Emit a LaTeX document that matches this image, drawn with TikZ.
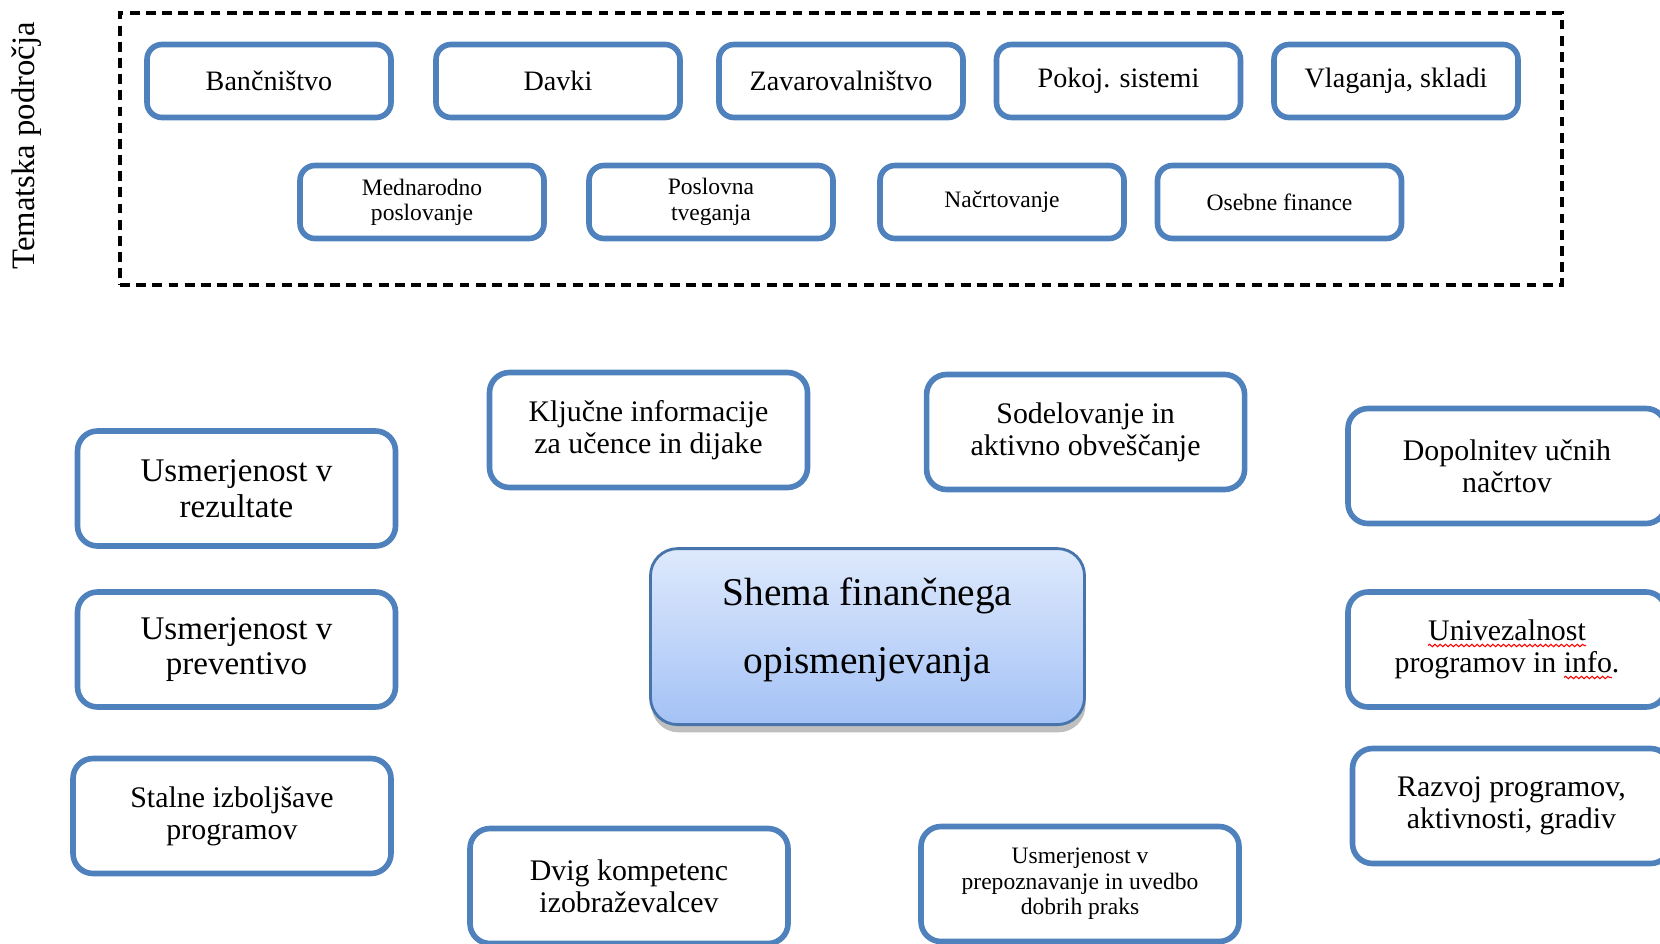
\documentclass[tikz,border=0pt]{standalone}
\usepackage{fontspec}
\setmainfont{Liberation Serif}
\usetikzlibrary{shadows,calc,decorations.pathmorphing}

\definecolor{okvir}{RGB}{79,129,189}
\definecolor{shemazg}{RGB}{222,233,252}
\definecolor{shemasp}{RGB}{164,194,246}

\begin{document}
\begin{tikzpicture}[
    tema/.style={draw=okvir, line width=1.6pt, rounded corners=0.15cm, fill=white, align=center,
        minimum width=2.44cm, minimum height=0.73cm, inner sep=0pt, font=\fontsize{8}{9}\selectfont},
    podtema/.style={tema, font=\fontsize{6.7}{7.2}\selectfont},
    smer/.style={tema, rounded corners=0.2cm, minimum width=3.18cm, minimum height=1.15cm,
        font=\fontsize{8.5}{9.1}\selectfont},
    smerv/.style={smer, font=\fontsize{9.4}{10.2}\selectfont},
    smerm/.style={smer, font=\fontsize{6.7}{7.2}\selectfont},
    napaka/.style={red, line width=0.3pt, decorate, decoration={snake, amplitude=0.35pt, segment length=1.5pt}}
]
    \useasboundingbox (0,0) rectangle (16.6,9.43);

    % tematska podrocja
    \node[draw, dashed, line width=0.9pt, dash pattern=on 2.8pt off 1.8pt, minimum width=14.42cm,
        minimum height=2.72cm, inner sep=0pt] (podrocja) at (8.41,7.94) {};
    \node[rotate=90, font=\fontsize{9.3}{11}\selectfont] (naslov) at (0.27,7.97) {Tematska področja};

    \node[tema] (banc) at (2.69,8.62) {Bančništvo};
    \node[tema] (davki) at (5.58,8.62) {Davki};
    \node[tema] (zavar) at (8.41,8.62) {Zavarovalništvo};
    \node[tema] (pokoj) at (11.185,8.62) {Pokoj. sistemi};
    \node[tema] (vlag) at (13.96,8.62) {Vlaganja, skladi};

    \node[podtema] (mednar) at (4.22,7.41) {Mednarodno\\poslovanje};
    \node[podtema] (tveg) at (7.11,7.41) {Poslovna\\tveganja};
    \node[podtema] (nacrt) at (10.02,7.41) {Načrtovanje};
    \node[podtema] (osebne) at (12.795,7.41) {Osebne finance};

    % shema
    \node[draw=okvir!90!black, line width=0.8pt, rounded corners=0.27cm, top color=shemazg,
        bottom color=shemasp, minimum width=4.34cm, minimum height=1.76cm, align=center,
        font=\fontsize{11.2}{19.6}\selectfont,
        drop shadow={shadow xshift=0.3pt, shadow yshift=-2.2pt, opacity=0.5}] (shema) at (8.675,3.064)
        {Shema finančnega\\opismenjevanja\rule[-0.22cm]{0pt}{0.22cm}};

    \node[smer] (kljuc) at (6.485,5.13) {Ključne informacije\\za učence in dijake};
    \node[smer] (sodel) at (10.856,5.11) {Sodelovanje in\\aktivno obveščanje};
    \node[smer] (dopol) at (15.07,4.77) {Dopolnitev učnih\\načrtov};
    \node[smerv] (rezult) at (2.365,4.545) {Usmerjenost v\\rezultate};
    \node[smerv] (prevent) at (2.365,2.935) {Usmerjenost v\\preventivo};
    \node[smer] (stalne) at (2.32,1.27) {Stalne izboljšave\\programov};
    \node[smer] (univ) at (15.07,2.935) {Univezalnost\\programov in info.};
    \node[smer] (razvoj) at (15.115,1.37) {Razvoj programov,\\aktivnosti, gradiv};
    \node[smer] (dvig) at (6.29,0.57) {Dvig kompetenc\\izobraževalcev};
    \node[smerm] (prakse) at (10.80,0.59) {Usmerjenost v\\prepoznavanje in uvedbo\\dobrih praks};

    % oznake crkovalnika
    \draw[napaka] ($(univ.center)+(-0.79,0.04)$) -- ($(univ.center)+(0.79,0.04)$);
    \draw[napaka] ($(univ.center)+(0.57,-0.28)$) -- ($(univ.center)+(1.05,-0.28)$);
\end{tikzpicture}
\end{document}
